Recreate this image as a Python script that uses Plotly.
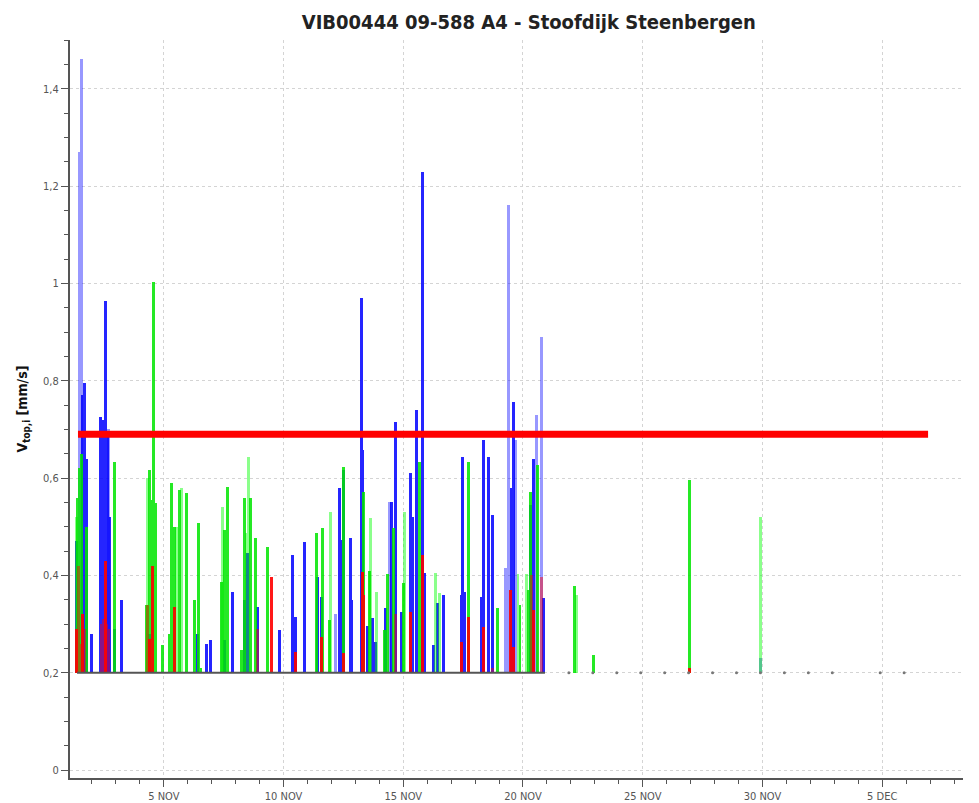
import plotly.graph_objects as go

YEAR = "2009"

def ts(s):
    return f"{YEAR}-{s}"

# ---- data ----
blue_times = ["11-01 09:00", "11-01 15:00", "11-01 17:00", "11-01 19:00", "11-02 00:00", "11-02 09:00",
              "11-02 11:00", "11-02 14:00", "11-02 16:00", "11-02 18:00", "11-02 23:00", "11-03 06:00",
              "11-04 10:00", "11-06 10:00", "11-06 19:00", "11-06 23:00", "11-07 13:00", "11-07 21:00",
              "11-08 09:00", "11-08 12:00", "11-08 22:00", "11-09 20:00", "11-10 09:00", "11-10 12:00",
              "11-10 21:00", "11-11 10:00", "11-11 14:00", "11-12 08:00", "11-12 10:00", "11-12 12:00",
              "11-12 19:00", "11-12 20:00", "11-13 06:00", "11-13 07:00", "11-13 12:00", "11-13 17:00",
              "11-13 20:00", "11-14 06:00", "11-14 12:00", "11-14 16:00", "11-14 22:00", "11-15 07:00",
              "11-15 09:00", "11-15 13:00", "11-15 19:00", "11-15 21:00", "11-16 06:00", "11-16 10:00",
              "11-16 16:00", "11-17 10:00", "11-17 11:00", "11-17 13:00", "11-18 06:00", "11-18 08:00",
              "11-18 13:00", "11-18 17:00", "11-19 12:00", "11-19 14:00", "11-20 08:00", "11-20 11:00",
              "11-20 21:00"]
blue_values = [0.47, 0.77, 0.795, 0.64, 0.28, 0.725,
               0.72, 0.963, 0.685, 0.52, 0.29, 0.35,
               0.28, 0.28, 0.26, 0.267, 0.267, 0.366,
               0.35, 0.446, 0.335, 0.288, 0.442, 0.315,
               0.469, 0.397, 0.356, 0.58, 0.473, 0.617,
               0.477, 0.35, 0.97, 0.658, 0.297, 0.312,
               0.263, 0.333, 0.551, 0.716, 0.325, 0.61,
               0.52, 0.74, 1.229, 0.405, 0.257, 0.343,
               0.36, 0.36, 0.644, 0.366, 0.356, 0.678,
               0.644, 0.524, 0.58, 0.757, 0.545, 0.64,
               0.353]

blue_light_times = ["11-01 12:00", "11-01 14:00", "11-02 17:00", "11-12 04:00", "11-14 10:00", "11-19 06:00",
                    "11-19 09:00", "11-19 16:00", "11-20 14:00", "11-20 19:00", "11-29 22:00"]
blue_light_values = [1.27, 1.46, 0.70, 0.32, 0.55, 0.415,
                     1.162, 0.678, 0.73, 0.89, 0.23]

green_times = ["11-01 10:00", "11-01 12:00", "11-01 14:00", "11-01 19:00", "11-02 23:00", "11-04 07:00",
               "11-04 10:00", "11-04 12:00", "11-04 14:00", "11-04 16:00", "11-04 23:00", "11-05 06:00",
               "11-05 08:00", "11-05 11:00", "11-05 16:00", "11-05 23:00", "11-06 07:00", "11-06 11:00",
               "11-06 13:00", "11-07 10:00", "11-07 13:00", "11-07 16:00", "11-08 06:00", "11-08 09:00",
               "11-08 15:00", "11-08 20:00", "11-09 08:00", "11-11 09:00", "11-11 15:00", "11-11 22:00",
               "11-12 12:00", "11-13 08:00", "11-13 14:00", "11-14 05:00", "11-14 08:00", "11-14 14:00",
               "11-15 00:00", "11-15 16:00", "11-17 17:00", "11-18 22:00", "11-19 21:00", "11-20 06:00",
               "11-20 08:00", "11-20 15:00", "11-22 04:00", "11-22 23:00", "11-26 23:00"]
green_values = [0.56, 0.62, 0.65, 0.50, 0.633, 0.34,
                0.617, 0.555, 1.003, 0.549, 0.257, 0.28,
                0.59, 0.50, 0.576, 0.569, 0.35, 0.508,
                0.21, 0.386, 0.493, 0.582, 0.247, 0.56,
                0.56, 0.477, 0.459, 0.487, 0.497, 0.308,
                0.623, 0.571, 0.41, 0.288, 0.404, 0.497,
                0.384, 0.633, 0.633, 0.333, 0.339, 0.37,
                0.571, 0.627, 0.378, 0.236, 0.596]

green_light_times = ["11-01 09:00", "11-04 08:00", "11-05 13:00", "11-05 18:00", "11-07 11:00", "11-08 11:00",
                     "11-08 13:00", "11-11 23:00", "11-13 15:00", "11-13 21:00", "11-15 01:00", "11-16 08:00",
                     "11-16 12:00", "11-19 19:00", "11-20 04:00", "11-22 06:00", "11-29 22:00"]
green_light_values = [0.52, 0.60, 0.50, 0.58, 0.54, 0.487,
                      0.644, 0.53, 0.518, 0.366, 0.53, 0.405,
                      0.364, 0.404, 0.404, 0.36, 0.52]

red_times = ["11-01 09:00", "11-01 15:00", "11-02 14:00", "11-04 10:00", "11-04 13:00", "11-05 11:00",
             "11-09 12:00", "11-10 12:00", "11-11 14:00", "11-12 12:00", "11-13 07:00", "11-13 08:00",
             "11-15 07:00", "11-15 19:00", "11-17 10:00", "11-17 17:00", "11-18 08:00", "11-19 11:00",
             "11-19 14:00", "11-20 11:00", "11-26 23:00"]
red_values = [0.29, 0.32, 0.43, 0.27, 0.42, 0.335,
              0.397, 0.243, 0.274, 0.24, 0.407, 0.36,
              0.325, 0.442, 0.263, 0.315, 0.294, 0.37,
              0.253, 0.33, 0.21]

red_light_times = ["11-01 10:00", "11-01 11:00", "11-01 13:00", "11-01 17:00", "11-02 10:00", "11-02 12:00",
                   "11-02 15:00", "11-02 17:00", "11-04 08:00", "11-08 22:00", "11-14 16:00", "11-18 17:00",
                   "11-20 09:00", "11-20 19:00"]
red_light_values = [0.28, 0.42, 0.26, 0.29, 0.30, 0.31,
                    0.30, 0.29, 0.34, 0.29, 0.32, 0.21,
                    0.40, 0.397]

trigger_level = 0.2
trigger_span = ["11-01 09:00", "11-20 22:00"]
daily_check_times = ["11-21 22:00", "11-22 22:00", "11-23 22:00", "11-24 22:00", "11-25 22:00",
                     "11-26 22:00", "11-27 22:00", "11-28 22:00", "11-29 22:00", "11-30 22:00",
                     "12-01 22:00", "12-02 22:00", "12-04 22:00", "12-05 22:00"]

threshold_value = 0.69
threshold_span = ["11-01 10:00", "12-06 22:00"]

x_tick_vals = ["11-05", "11-10", "11-15", "11-20", "11-25", "11-30", "12-05"]
x_tick_text = ["5 NOV", "10 NOV", "15 NOV", "20 NOV", "25 NOV", "30 NOV", "5 DEC"]
x_range = ["11-01 02:00", "12-08 09:00"]
y_range = [-0.016, 1.5]

# ---- figure ----
fig = go.Figure()

fig.add_trace(go.Scatter(x=[ts(t) for t in trigger_span], y=[trigger_level] * len(trigger_span),
                         mode="lines", line=dict(color="#555555", width=2), hoverinfo="skip"))
fig.add_trace(go.Scatter(x=[ts(t) for t in daily_check_times], y=[trigger_level] * len(daily_check_times),
                         mode="markers", marker=dict(color="#777777", size=3), hoverinfo="skip"))

BAR_W = 3.0 * 3600 * 1000

def bars(times, values, color, opacity):
    fig.add_trace(go.Bar(x=[ts(t) for t in times], y=[v - trigger_level for v in values],
                         base=trigger_level, width=BAR_W, marker=dict(color=color, line=dict(width=0)),
                         opacity=opacity))

bars(blue_light_times, blue_light_values, "#0000ff", 0.4)
bars(blue_times, blue_values, "#0000ff", 0.85)
bars(green_light_times, green_light_values, "#00ff00", 0.45)
bars(green_times, green_values, "#00e600", 0.85)
bars(red_light_times, red_light_values, "#ff0000", 0.45)
bars(red_times, red_values, "#ff0000", 0.9)

fig.add_trace(go.Scatter(x=[ts(t) for t in threshold_span], y=[threshold_value] * 2,
                         mode="lines", line=dict(color="#ff0000", width=7), hoverinfo="skip"))

FONT = "DejaVu Sans Condensed, DejaVu Sans, sans-serif"
tick_font = dict(family=FONT, size=11, color="#555555")

fig.update_layout(
    width=979, height=803,
    margin=dict(l=62, r=24, t=32, b=33),
    paper_bgcolor="white", plot_bgcolor="white",
    showlegend=False, barmode="overlay", bargap=0,
    separators=",.",
    title=dict(text="<b>VIB00444 09-588 A4 - Stoofdijk Steenbergen</b>",
               x=0.532, xanchor="center", y=0.983, yanchor="middle",
               font=dict(family=FONT, size=20, color="#222222")),
    xaxis=dict(type="date", range=[ts(x_range[0]), ts(x_range[1])], automargin=False,
               tickmode="array", tickvals=[ts(v) for v in x_tick_vals], ticktext=x_tick_text,
               ticks="outside", ticklen=7, tickcolor="#555555", tickfont=tick_font,
               showline=True, linecolor="#555555", linewidth=2,
               showgrid=True, gridcolor="#d4d4d4", griddash="dot", gridwidth=1,
               zeroline=False,
               minor=dict(tickmode="linear", tick0=ts("11-01"), dtick=86400000,
                          ticks="outside", ticklen=4, tickcolor="#555555", showgrid=False)),
    yaxis=dict(range=y_range, tickmode="linear", tick0=0, dtick=0.2, automargin=False,
               ticks="outside", ticklen=7, tickcolor="#555555", tickfont=tick_font,
               showline=True, linecolor="#555555", linewidth=2,
               showgrid=True, gridcolor="#d4d4d4", griddash="dot", gridwidth=1,
               zeroline=False,
               minor=dict(dtick=0.05, ticks="outside", ticklen=4, tickcolor="#555555", showgrid=False),
               title=dict(text="<b>V<sub>top,i</sub> [mm/s]</b>", standoff=12,
                          font=dict(family=FONT, size=14, color="#111111"))),
)

fig.write_html("out.html")
